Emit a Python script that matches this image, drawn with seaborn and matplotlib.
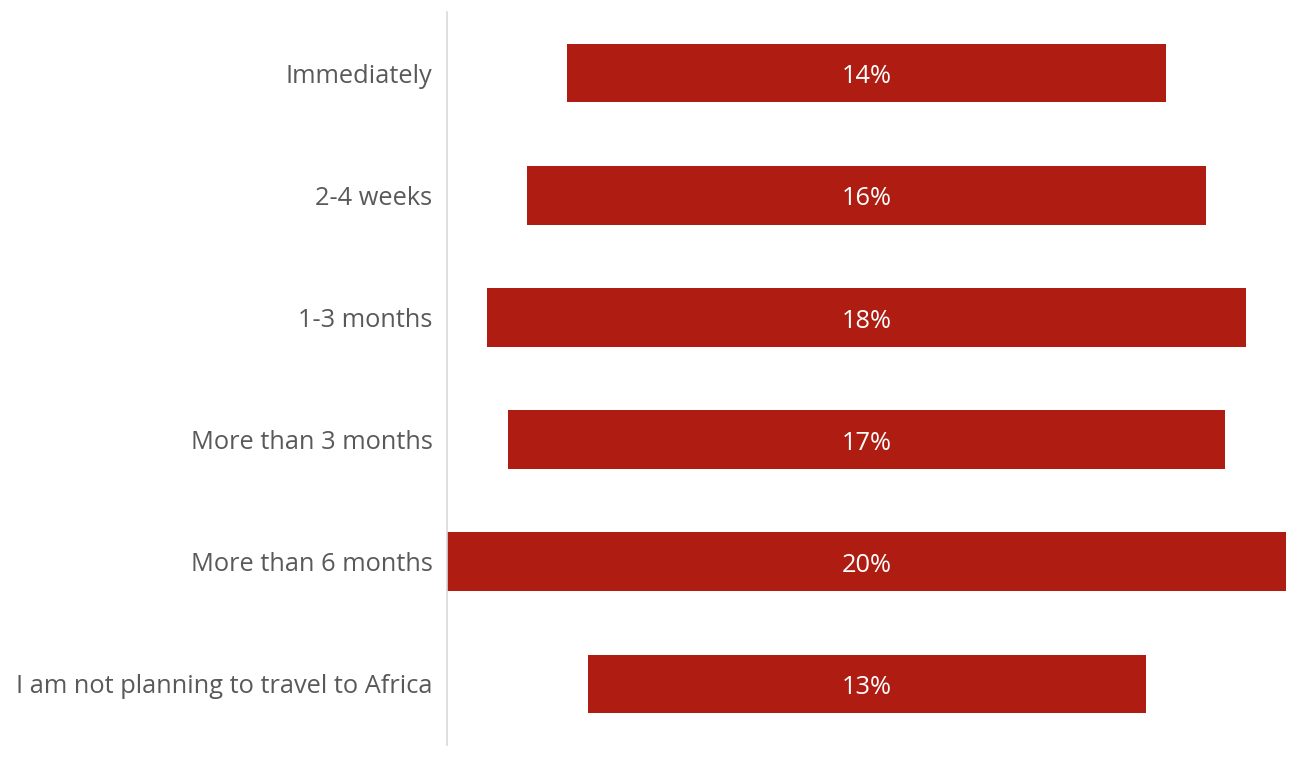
import pandas as pd
import matplotlib
matplotlib.use("Agg")
import matplotlib.pyplot as plt
import seaborn as sns

# dados
categorias = ["Immediately", "2-4 weeks", "1-3 months", "More than 3 months",
              "More than 6 months", "I am not planning to travel to Africa"]
valores = [14.3, 16.2, 18.1, 17.1, 20.0, 13.3]
rotulos = ["14%", "16%", "18%", "17%", "20%", "13%"]

maximo = max(valores)
df = pd.DataFrame({"cat": categorias, "val": valores})
df["pad"] = (maximo - df["val"]) / 2
df["fim"] = df["pad"] + df["val"]

sns.set_style("white")
plt.rcParams["font.family"] = ["Open Sans", "DejaVu Sans"]

fig = plt.figure(figsize=(13.01, 7.59), dpi=100)
ax = fig.add_axes([0.3436, 0.0184, 0.6449, 0.9658])

# barra vermelha até o fim, depois branco por cima para centralizar
sns.barplot(data=df, y="cat", x="fim", color="#AE1C12", saturation=1,
            width=0.48, orient="h", linewidth=0, ax=ax)
sns.barplot(data=df, y="cat", x="pad", color="white", saturation=1,
            width=0.52, orient="h", linewidth=0, ax=ax)

for i, r in enumerate(rotulos):
    ax.text(maximo / 2, i + 0.03, r, color="white", ha="center", va="center", fontsize=18.3)

ax.set_xlim(0, maximo)
ax.set_ylim(5.5, -0.5)
ax.set_xlabel("")
ax.set_ylabel("")
ax.set_xticks([])
ax.tick_params(axis="y", length=0, pad=10.5, labelsize=18.3, labelcolor="#595959")
for s in ["top", "right", "bottom"]:
    ax.spines[s].set_visible(False)
ax.spines["left"].set_color("#D9D9D9")
ax.spines["left"].set_linewidth(1.2)

plt.savefig("out.png", dpi=100)
